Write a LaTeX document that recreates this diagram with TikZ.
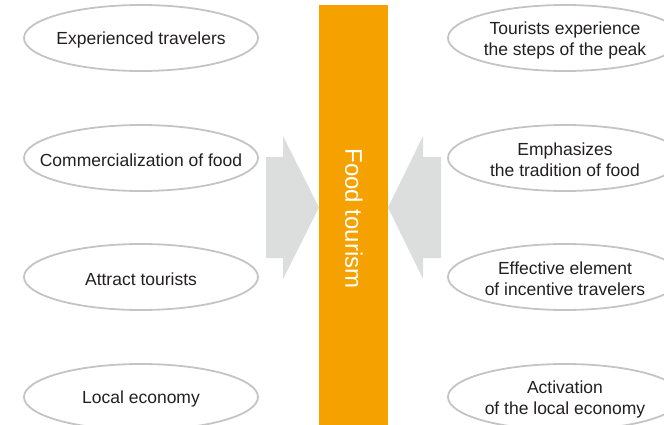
\documentclass[tikz,border=0pt]{standalone}
\usepackage{fontspec}
\setmainfont{Liberation Sans}
\definecolor{ringgray}{HTML}{C4C4C4}
\definecolor{arrowgray}{HTML}{DCDDDD}
\definecolor{barorange}{HTML}{F5A200}
\definecolor{txt}{HTML}{231F20}
\begin{document}
\begin{tikzpicture}[x=1pt,y=-1pt,
  oval/.style={inner sep=0pt,text=txt,font=\fontsize{17.5}{21}\selectfont,align=center},
  ring/.style={draw=ringgray,line width=1.8pt},
  blockarrow/.style={fill=arrowgray,draw=none}]
\useasboundingbox (0,0) rectangle (664,425);
\begin{scope}
\clip (0,0) rectangle (664,425);
% bar
\node[fill=barorange,minimum width=69pt,minimum height=430pt,inner sep=0pt,anchor=north west] (bar) at (319,5) {};
\node[rotate=-90,text=white,font=\fontsize{24}{28}\selectfont] (label) at (354,218.5) {Food tourism};
% arrows
\path[blockarrow] (266,157) -- (283,157) -- (283,136) -- (319,207.5) -- (283,279) -- (283,258) -- (266,258) -- cycle;
\path[blockarrow] (441,157) -- (423,157) -- (423,136) -- (388,207.5) -- (423,279) -- (423,258) -- (441,258) -- cycle;
% left ovals
\coordinate (cl1) at (141,38);
\coordinate (cl2) at (141,158);
\coordinate (cl3) at (141,277);
\coordinate (cl4) at (141,397);
\coordinate (cr1) at (565,38);
\coordinate (cr2) at (565,158);
\coordinate (cr3) at (565,277);
\coordinate (cr4) at (565,397);
\node[oval] (l1) at ([yshift=-2pt]cl1) {Experienced travelers};
\node[oval] (l2) at ([yshift=-2pt]cl2) {Commercialization of food};
\node[oval] (l3) at ([yshift=-2pt]cl3) {Attract tourists};
\node[oval] (l4) at ([yshift=-2pt]cl4) {Local economy};
% right ovals
\node[oval] (r1) at ([yshift=-2pt]cr1) {Tourists experience\\the steps of the peak};
\node[oval] (r2) at ([yshift=-2pt]cr2) {Emphasizes\\the tradition of food};
\node[oval] (r3) at ([yshift=-2pt]cr3) {Effective element\\of incentive travelers};
\node[oval] (r4) at ([yshift=-2pt]cr4) {Activation\\of the local economy};
\foreach \n in {l1,l2,l3,l4,r1,r2,r3,r4}
  \draw[ring] (c\n) ellipse [x radius=117, y radius=33];
\end{scope}
\end{tikzpicture}
\end{document}
